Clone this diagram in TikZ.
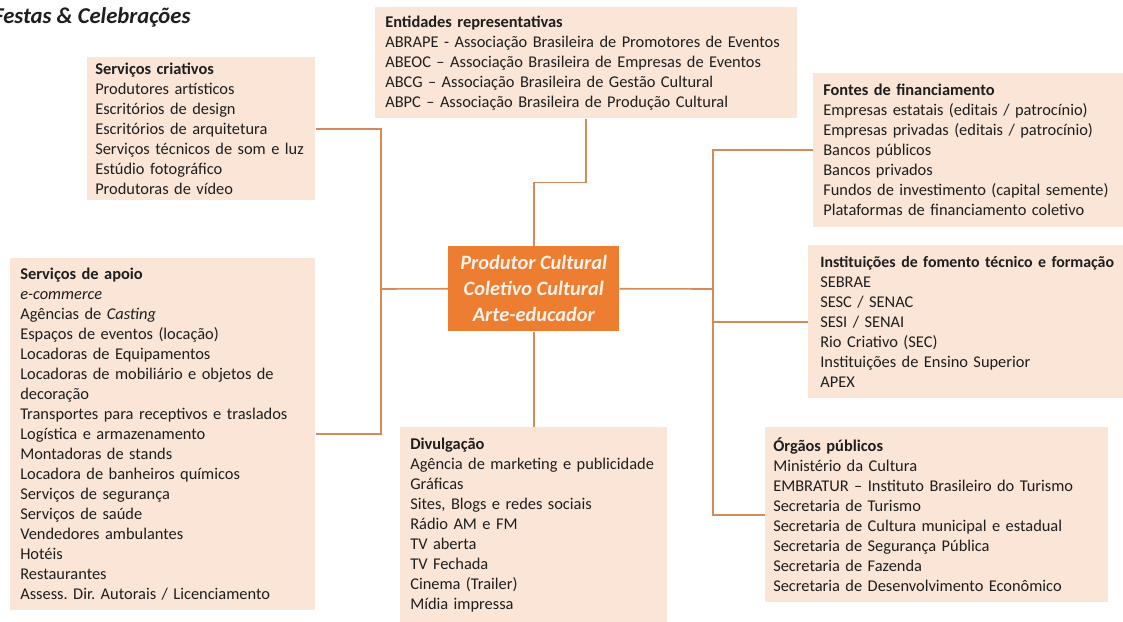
\documentclass[tikz,border=0pt]{standalone}
\usepackage{fontspec}
\setmainfont{Carlito}
\usetikzlibrary{positioning}
\definecolor{caixa}{RGB}{251,229,214}
\definecolor{laranja}{RGB}{237,125,49}
\definecolor{linha}{RGB}{214,138,88}
\definecolor{texto}{RGB}{30,30,30}
\frenchspacing

\begin{document}
\begin{tikzpicture}[x=0.75pt,y=-0.75pt]%[show background grid]
\tikzstyle{grupo}=[fill=caixa, anchor=north west, align=left, inner xsep=7.5pt, inner ysep=0pt, text=texto, font=\fontsize{12.3}{15}\selectfont]
\tikzstyle{centro}=[fill=laranja, anchor=north west, align=center, inner sep=0pt, text=white!90!laranja, font=\bfseries\itshape\fontsize{15.3}{19.5}\selectfont]
\tikzstyle{ramo}=[draw=linha, line width=1.2pt]

\useasboundingbox (0,0) rectangle (1123,621);
\clip (0,0) rectangle (1123,621);

\node[anchor=base west, inner sep=0pt, text=texto, font=\bfseries\itshape\fontsize{17}{20}\selectfont] (titulo) at (-7,23) {Festas \& Celebrações};

\node[centro, minimum width=128.25pt, minimum height=63.75pt] (produtor) at (448,246)
 {Produtor Cultural\\Coletivo Cultural\\Arte-educador};

\node[grupo, inner xsep=6pt, text width=159pt, minimum width=171pt, minimum height=107.25pt] (criativos) at (87,57)
 {\textbf{Serviços criativos}\\Produtores artísticos\\Escritórios de design\\Escritórios de arquitetura\\Serviços técnicos de som e luz\\Estúdio fotográfico\\Produtoras de vídeo};

\node[grupo, text width=301.5pt, minimum width=316.5pt, minimum height=83.25pt] (entidades) at (375,7)
 {\textbf{Entidades representativas}\\ABRAPE - Associação Brasileira de Promotores de Eventos\\ABEOC -- Associação Brasileira de Empresas de Eventos\\ABCG -- Associação Brasileira de Gestão Cultural\\ABPC -- Associação Brasileira de Produção Cultural};

\node[grupo, text width=227.25pt, minimum width=237.75pt, minimum height=115.5pt] (fontes) at (813,73)
 {\textbf{Fontes de financiamento}\\Empresas estatais (editais / patrocínio)\\Empresas privadas (editais / patrocínio)\\Bancos públicos\\Bancos privados\\Fundos de investimento (capital semente)\\Plataformas de financiamento coletivo};

\node[grupo, text width=213.75pt, minimum width=228.75pt, minimum height=264pt] (apoio) at (10,258)
 {\textbf{Serviços de apoio}\\\textit{e-commerce}\\Agências de \textit{Casting}\\Espaços de eventos (locação)\\Locadoras de Equipamentos\\Locadoras de mobiliário e objetos de\\decoração\\Transportes para receptivos e traslados\\Logística e armazenamento\\Montadoras de stands\\Locadora de banheiros químicos\\Serviços de segurança\\Serviços de saúde\\Vendedores ambulantes\\Hotéis\\Restaurantes\\Assess. Dir. Autorais / Licenciamento};

\node[grupo, inner xsep=9pt, text width=235pt, minimum width=246pt, minimum height=114.75pt] (fomento) at (808,245)
 {{\fontsize{11.9}{15}\selectfont\textbf{Instituições de fomento técnico e formação}}\\SEBRAE\\SESC / SENAC\\SESI / SENAI\\Rio Criativo (SEC)\\Instituições de Ensino Superior\\APEX};

\node[grupo, text width=185.25pt, minimum width=200.25pt, minimum height=146pt] (divulgacao) at (400,427)
 {\textbf{Divulgação}\\Agência de marketing e publicidade\\Gráficas\\Sites, Blogs e redes sociais\\Rádio AM e FM\\TV aberta\\TV Fechada\\Cinema (Trailer)\\Mídia impressa};

\node[grupo, inner xsep=6pt, text width=245.25pt, minimum width=257.25pt, minimum height=131.25pt] (orgaos) at (765,427)
 {\textbf{Órgãos públicos}\\Ministério da Cultura\\EMBRATUR -- Instituto Brasileiro do Turismo\\Secretaria de Turismo\\Secretaria de Cultura municipal e estadual\\Secretaria de Segurança Pública\\Secretaria de Fazenda\\Secretaria de Desenvolvimento Econômico};

% ligacoes
\coordinate (esq) at (381,289);
\coordinate (dir) at (713,289);

\draw[ramo] (criativos.east) -| (esq) |- (apoio.east);
\draw[ramo] (produtor.west) -- (esq);
\draw[ramo] (entidades.south) -- ++(0,64) -| (produtor.north);
\draw[ramo] (produtor.south) -- (divulgacao.north);
\draw[ramo] (produtor.east) -- (dir);
\draw[ramo] (fontes.west) -| (dir) |- (orgaos.west);
\draw[ramo] (dir |- fomento.west) -- (fomento.west);

\end{tikzpicture}
\end{document}
